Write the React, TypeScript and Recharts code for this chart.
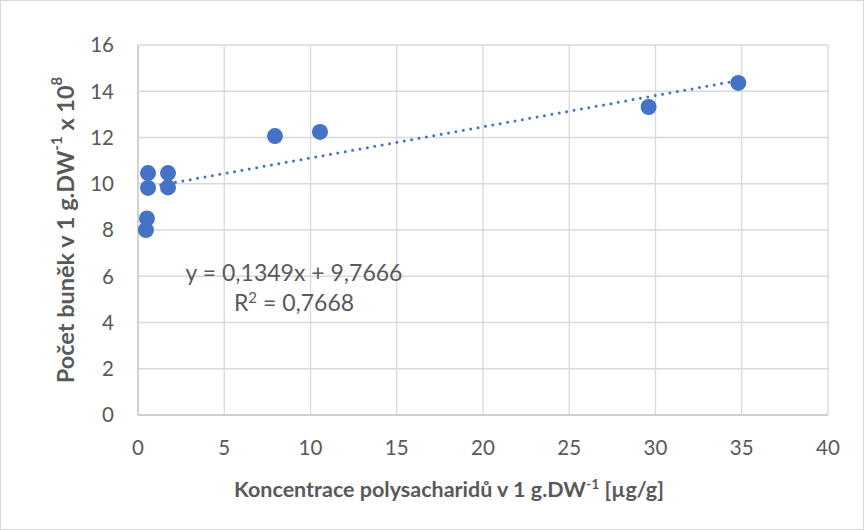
import React from "react";
import {
  ScatterChart,
  Scatter,
  XAxis,
  YAxis,
  CartesianGrid,
} from "recharts";

// Koncentrace polysacharidů [µg/g] a počet buněk [x 10^8]
const concentration = [0.58, 0.58, 0.52, 0.46, 1.74, 1.74, 7.94, 10.55, 29.6, 34.8];
const cellCount = [10.46, 9.82, 8.5, 8.0, 10.46, 9.84, 12.06, 12.24, 13.32, 14.36];

const xTicks = [0, 5, 10, 15, 20, 25, 30, 35, 40];
const yTicks = [0, 2, 4, 6, 8, 10, 12, 14, 16];

// lineární trend z rovnice v grafu
const slope = 0.1349;
const intercept = 9.7666;

const FONT = "Lato, 'Open Sans', sans-serif";
const GREY = "#595959";
const BLUE = "#4472C4";

const points = concentration.map((x, i) => ({ x, y: cellCount[i] }));
const xMin = Math.min(...concentration);
const xMax = Math.max(...concentration);
const trend = [xMin, xMax].map((x) => ({ x, y: slope * x + intercept }));

const Dot = (props: any) => (
  <circle cx={props.cx} cy={props.cy} r={8} fill={BLUE} />
);

const YTitle = () => {
  const cx = 64;
  const cy = 229;
  return (
    <text
      x={cx}
      y={cy}
      transform={`rotate(-90 ${cx} ${cy})`}
      textAnchor="middle"
      dominantBaseline="central"
      fill={GREY}
      fontFamily={FONT}
      fontWeight="bold"
      fontSize={23.5}
    >
      <tspan>Počet buněk v 1 g.DW</tspan>
      <tspan fontSize={15} dy={-9}>-1</tspan>
      <tspan dy={9}> x 10</tspan>
      <tspan fontSize={15} dy={-9}>8</tspan>
    </text>
  );
};

const XTitle = () => (
  <text
    x={448}
    y={496}
    textAnchor="middle"
    fill={GREY}
    fontFamily={FONT}
    fontWeight="bold"
    fontSize={21.5}
  >
    <tspan>Koncentrace polysacharidů v 1 g.DW</tspan>
    <tspan fontSize={14} dy={-8}>-1</tspan>
    <tspan dy={8}> [µg/g]</tspan>
  </text>
);

export default function App() {
  return (
    <div
      style={{
        position: "absolute",
        left: 0,
        top: 0,
        width: 864,
        height: 530,
        boxSizing: "border-box",
        border: "1px solid #d9d9d9",
        background: "#fff",
      }}
    >
      <ScatterChart
        width={862}
        height={528}
        margin={{ top: 44, right: 35, bottom: 0, left: 0 }}
        style={{ position: "absolute", left: 0, top: 0 }}
      >
        <CartesianGrid stroke="#d9d9d9" strokeWidth={1.3} />
        <XAxis
          type="number"
          dataKey="x"
          domain={[0, 40]}
          ticks={xTicks}
          height={114}
          axisLine={{ stroke: "#c8c8c8", strokeWidth: 1.3 }}
          tickLine={false}
          tickSize={0}
          tickMargin={25}
          tick={{ fill: GREY, fontFamily: FONT, fontSize: 20.5 }}
          label={<XTitle />}
        />
        <YAxis
          type="number"
          dataKey="y"
          domain={[0, 16]}
          ticks={yTicks}
          width={137}
          axisLine={{ stroke: "#c8c8c8", strokeWidth: 1.3 }}
          tickLine={false}
          tickSize={0}
          tickMargin={24}
          tick={{ fill: GREY, fontFamily: FONT, fontSize: 20.5 }}
          label={<YTitle />}
        />
        <Scatter
          data={trend}
          line={{
            stroke: BLUE,
            strokeWidth: 3,
            strokeDasharray: "0 7.5",
            strokeLinecap: "round",
          }}
          shape={() => null}
          isAnimationActive={false}
        />
        <Scatter data={points} shape={<Dot />} isAnimationActive={false} />
      </ScatterChart>
      <div
        style={{
          position: "absolute",
          left: 143,
          top: 256,
          width: 300,
          textAlign: "center",
          color: GREY,
          fontFamily: FONT,
          fontSize: 23,
          lineHeight: "30px",
        }}
      >
        <div>y = 0,1349x + 9,7666</div>
        <div>
          R<sup style={{ fontSize: 15, verticalAlign: "8px", lineHeight: 0 }}>2</sup> = 0,7668
        </div>
      </div>
    </div>
  );
}
